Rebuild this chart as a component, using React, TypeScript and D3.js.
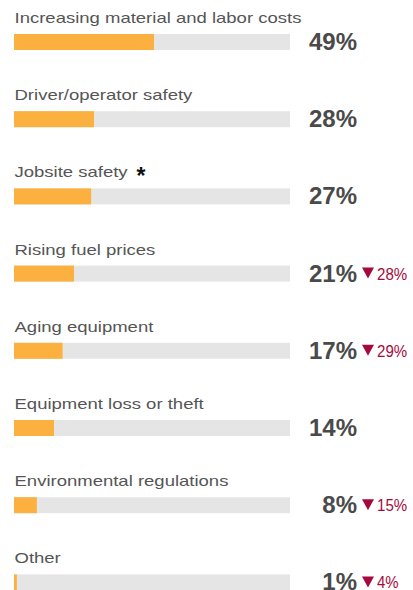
import React, { useMemo } from "react";
import * as d3 from "d3";

const categories = [
  "Increasing material and labor costs",
  "Driver/operator safety",
  "Jobsite safety",
  "Rising fuel prices",
  "Aging equipment",
  "Equipment loss or theft",
  "Environmental regulations",
  "Other",
];
const values = [49, 28, 27, 21, 17, 14, 8, 1];
const previousChange: (number | null)[] = [null, null, null, 28, 29, null, 15, 4];
const starred = [false, false, true, false, false, false, false, false];

const W = 413;
const H = 590;
const FONT = "'Liberation Sans', Arial, Helvetica, sans-serif";

function measure(text: string, px: number, weight = "normal") {
  const c = document.createElement("canvas");
  const ctx = c.getContext("2d");
  if (!ctx) return text.length * px * 0.5;
  ctx.font = `${weight} ${px}px ${FONT}`;
  return ctx.measureText(text).width;
}

export default function App() {
  const x = d3.scaleLinear().domain([0, 100]).range([14, 14 + 285.7]);
  const y = d3
    .scaleBand<number>()
    .domain(d3.range(categories.length))
    .range([0, 77.2 * categories.length]);
  const trackEnd = 290;
  const barH = 16;
  const barTop = (i: number) => (y(i) as number) + 34;

  const labelWidths = useMemo(() => categories.map((c) => measure(c, 18.5)), []);

  return (
    <svg
      width={W}
      height={H}
      style={{ position: "absolute", left: 0, top: 0, display: "block", background: "#fff" }}
      fontFamily={FONT}
    >
      {categories.map((c, i) => {
        const top = barTop(i);
        const ch = previousChange[i];
        const base = top - 11;
        return (
          <g key={c}>
            <text
              x={14.5}
              y={base}
              fontSize={15}
              fill="#555"
              textLength={labelWidths[i]}
              lengthAdjust="spacingAndGlyphs"
            >
              {c}
            </text>
            {starred[i] ? (
              <text x={14.5 + labelWidths[i] + 9} y={base + 7} fontSize={23} fontWeight="bold" fill="#111">
                *
              </text>
            ) : null}
            <rect x={14} y={top} width={trackEnd - 14} height={barH} fill="#e5e5e5" />
            <rect x={x(0)} y={top} width={Math.max(0, x(values[i]) - x(0))} height={barH} fill="#fbb040" />
            <text
              x={357}
              y={top + barH}
              textAnchor="end"
              fontSize={24}
              fontWeight="bold"
              fill="#4a4a4a"
            >
              {values[i]}%
            </text>
            {ch !== null ? (
              <g>
                <path
                  d={`M${362},${top + 2} L${374},${top + 2} L${368},${top + 13} Z`}
                  fill="#a50a3c"
                />
                <text
                  x={377}
                  y={top + 14}
                  fontSize={16}
                  fill="#a50a3c"
                  textLength={String(ch).length * 8.6 + 13}
                  lengthAdjust="spacingAndGlyphs"
                >
                  {ch}%
                </text>
              </g>
            ) : null}
          </g>
        );
      })}
    </svg>
  );
}
